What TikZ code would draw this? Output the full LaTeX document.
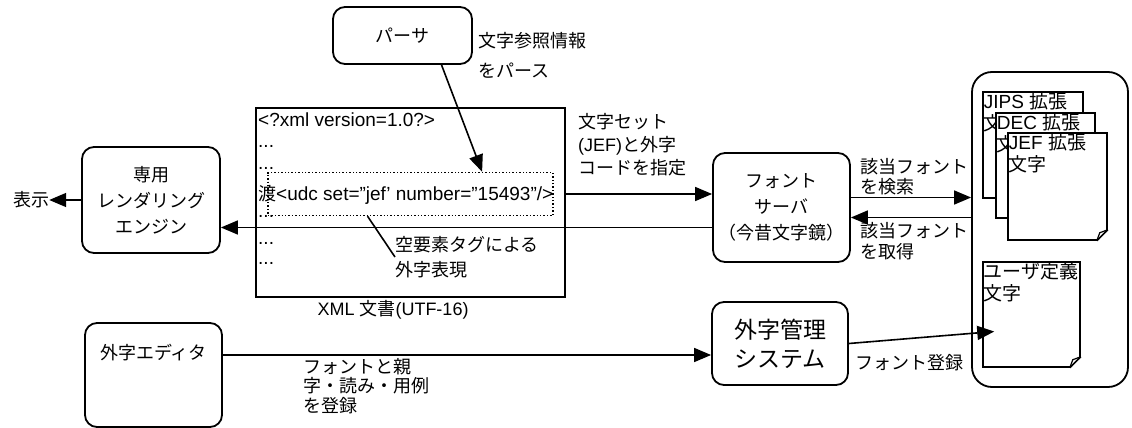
\documentclass[tikz,border=0pt]{standalone}
\usepackage{fontspec}
\setmainfont{Noto Sans CJK JP}
\newfontfamily\lat{Liberation Sans}
\usetikzlibrary{calc,arrows.meta,positioning}
\tikzset{box/.style={draw, line width=1.8pt, rounded corners=12pt, align=center, font=\fontsize{18}{26}\selectfont},
  doc/.style={draw, line width=1.5pt, fill=white, inner sep=0pt},
  doctext/.style={anchor=north west, align=left, inner sep=1.5pt, font=\fontsize{19}{22}\selectfont},
  txt/.style={align=left, inner sep=0pt},
  code/.style={anchor=west, inner sep=0pt, font=\fontsize{19}{22}\lat},
  conn/.style={line width=1.6pt, -{Triangle[length=17pt,width=14pt]}},
  plain/.style={line width=1.6pt}}
\newcommand{\dogear}[1]{%
  \fill[white] ($(#1.south east)+(-12,2)$) -- ($(#1.south east)+(2,2)$) -- ($(#1.south east)+(2,-12)$) -- cycle;
  \draw[line width=1.5pt] ($(#1.south east)+(-11,0)$) -- ($(#1.south east)+(0,-11)$);
  \draw[line width=1.2pt] ($(#1.south east)+(-11,0)$) -- ($(#1.south east)+(-8,-8)$) -- ($(#1.south east)+(0,-11)$);}

\begin{document}
\begin{tikzpicture}[x=1pt, y=-1pt, font=\fontsize{18}{22}\selectfont]
    \path[fill=white, use as bounding box] (0,0) rectangle (1132,428);
    % parser and rendering engine
    \node[box, minimum width=139pt, minimum height=57pt] (parser) at (402.5,35.5) {パーサ};
    \node[box, minimum width=138pt, minimum height=106pt] (render) at (151,200) {専用\\レンダリング\\エンジン};
    \node[txt] (disp) at (31,200) {表示};
    % XML document
    \node[draw, line width=1.6pt, minimum width=309pt, minimum height=189pt] (xml) at (410.5,202.5) {};
    \node[code] (l1) at (258,120) {<?xml version=1.0?>};
    \node[code] (l2) at (258,146) {...};
    \node[code] (l3) at (258,168) {...};
    \node[code] (l4) at (258,195) {{\fontsize{18}{22}\rmfamily 渡}<udc set=”jef’ number=”15493”/>};
    \node[code] (l5) at (258,216) {...};
    \node[code] (l6) at (258,243) {...};
    \node[code] (l7) at (258,263) {...};
    \node[draw, dotted, line width=1.4pt, minimum width=285pt, minimum height=43pt] (udc) at (410.5,194) {};
    \node[txt, anchor=north west, font=\fontsize{18}{25}\selectfont] (note) at (395,236) {空要素タグによる\\外字表現};
    \node (cap) at (393,310) {{\lat XML }文書{\lat (UTF-16)}};
    % font server and font store
    \node[box, minimum width=137pt, minimum height=109pt] (server) at (781.5,207.5) {フォント\\サーバ\\（今昔文字鏡）};
    \node[draw, line width=1.8pt, rounded corners=20pt, minimum width=156pt, minimum height=315pt] (store) at (1050,229.5) {};
    \node[doc, minimum width=100pt, minimum height=106pt, label={[doctext]north west:{{\lat JIPS }拡張\\文字}}] (jips) at (1033,145) {};
    \node[doc, minimum width=99pt, minimum height=105pt, label={[doctext]north west:{{\lat DEC }拡張\\文字}}] (dec) at (1045.5,165.5) {};
    \node[doc, minimum width=99pt, minimum height=107pt, label={[doctext]north west:{{\lat JEF }拡張\\文字}}] (jef) at (1057.5,186.5) {};
    \dogear{jef}
    \node[doc, minimum width=97pt, minimum height=105pt, label={[doctext]north west:{ユーザ定義\\文字}}] (user) at (1031.5,314.5) {};
    \dogear{user}
    % editor and management system
    \node[box, minimum width=137pt, minimum height=104pt, label={[anchor=north, yshift=-19pt, font=\fontsize{18}{22}\selectfont]north:外字エディタ}] (editor) at (153.5,375) {};
    \node[box, font=\fontsize{23}{29}\selectfont, minimum width=136pt, minimum height=83pt] (manage) at (780,343.5) {外字管理\\システム};
    % labels
    \node[txt, anchor=north west, font=\fontsize{18}{30}\selectfont] (parselbl) at (478,32) {文字参照情報\\をパース};
    \node[txt, anchor=north west, font=\fontsize{18}{23}\selectfont] (setlbl) at (578,113) {文字セット\\{\lat (JEF)}と外字\\コードを指定};
    \node[txt, anchor=north west, font=\fontsize{18}{20}\selectfont] (findlbl) at (860,158) {該当フォント\\を検索};
    \node[txt, anchor=north west, font=\fontsize{18}{21}\selectfont] (getlbl) at (860,222) {該当フォント\\を取得};
    \node[txt, anchor=north west, font=\fontsize{18}{19.5}\selectfont] (reglbl) at (303,358) {フォントと親\\字・読み・用例\\を登録};
    \node[txt, anchor=west] (fontreg) at (855,363) {フォント登録};
    % connectors
    \coordinate (r1) at ([yshift=-20pt]server.west);
    \coordinate (s1) at ([yshift=10pt]server.east);
    \coordinate (s2) at ([yshift=-10pt]server.east);
    \coordinate (e1) at ([yshift=20pt]editor.east);
    \draw[conn] (parser.-37) -- ($(udc.north west)!0.75!(udc.north east)$);
    \draw[plain] ($(udc.south west)!0.35!(udc.south east)$) -- (note.west);
    \draw[conn] (udc.east -| xml.east) -- (udc.east -| server.west);
    \draw[conn] (r1) -- (r1 -| render.east);
    \draw[conn] (render.west) -- (disp.east);
    \draw[conn] (s1) -- (s1 -| store.west);
    \draw[conn] (s2 -| store.west) -- (s2);
    \draw[conn] (e1) -- (e1 -| manage.west);
    \draw[conn] (manage.east) -- ([xshift=12pt,yshift=-17pt]user.west);
\end{tikzpicture}
\end{document}
